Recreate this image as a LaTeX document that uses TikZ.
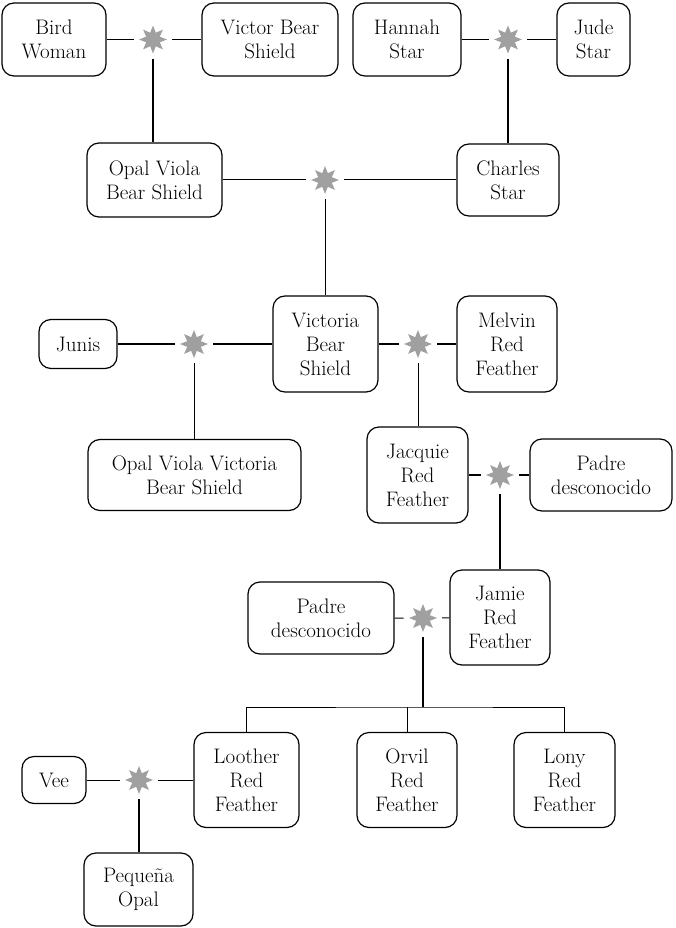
\documentclass[tikz,border=0pt]{standalone}
\usetikzlibrary{shapes.geometric}
\definecolor{stargray}{RGB}{160,160,160}
\tikzset{
  person/.style={draw, rounded corners=12pt, line width=1.2pt, align=center, inner sep=2pt, font=\fontsize{21}{24}\selectfont},
  union/.style={star, star points=8, star point ratio=1.9, fill=stargray, inner sep=0pt, minimum size=28pt, outer sep=2pt},
  link/.style={line width=1pt},
  boldlink/.style={line width=1.7pt},
}

\begin{document}
\begin{tikzpicture}[x=1pt, y=-1pt]
 \useasboundingbox (0,0) rectangle (675,928);

    % grandparents
    \node[person, minimum width=104, minimum height=73] (bird) at (54,39.5) {Bird\\Woman};
    \node[union] (u1) at (153,39.5) {};
    \node[person, minimum width=136, minimum height=73] (victor) at (270,39.5) {Victor Bear\\Shield};
    \node[person, minimum width=108, minimum height=73] (hannah) at (407,39.5) {Hannah\\Star};
    \node[union] (u2) at (508,39.5) {};
    \node[person, minimum width=73, minimum height=73] (jude) at (593.5,39.5) {Jude\\Star};

    % parents
    \node[person, minimum width=135, minimum height=74] (opalvbs) at (154.5,180) {Opal Viola\\Bear Shield};
    \node[union] (u3) at (325,180) {};
    \node[person, minimum width=102, minimum height=72] (charles) at (508,180) {Charles\\Star};

    % Victoria and her partners
    \node[person, minimum width=78, minimum height=49] (junis) at (78,344) {Junis};
    \node[union] (u4) at (194,344) {};
    \node[person, minimum width=105, minimum height=96] (victoria) at (325.5,344) {Victoria\\Bear\\Shield};
    \node[union] (u5) at (418,344) {};
    \node[person, minimum width=100, minimum height=96] (melvin) at (507,344) {Melvin\\Red\\Feather};

    % daughters
    \node[person, minimum width=213, minimum height=71] (opalvvbs) at (194.5,475) {Opal Viola Victoria\\Bear Shield};
    \node[person, minimum width=101, minimum height=96] (jacquie) at (417.5,475) {Jacquie\\Red\\Feather};
    \node[union] (u6) at (500,475) {};
    \node[person, minimum width=142, minimum height=72] (padreA) at (601,475) {Padre\\desconocido};

    \node[person, minimum width=146, minimum height=72] (padreB) at (321,618) {Padre\\desconocido};
    \node[union] (u7) at (423,618) {};
    \node[person, minimum width=100, minimum height=95] (jamie) at (500,617.5) {Jamie\\Red\\Feather};

    % youngest generation
    \coordinate (kids) at (423,707);
    \node[person, minimum width=64, minimum height=47] (vee) at (54,780) {Vee};
    \node[union] (u8) at (139,780) {};
    \node[person, minimum width=105, minimum height=95] (loother) at (246.5,780) {Loother\\Red\\Feather};
    \node[person, minimum width=100, minimum height=95] (orvil) at (407,780) {Orvil\\Red\\Feather};
    \node[person, minimum width=101, minimum height=95] (lony) at (564.5,780) {Lony\\Red\\Feather};
    \node[person, minimum width=109, minimum height=73] (pequena) at (138.5,889.5) {Pequeña\\Opal};

    % couples and descent
    \draw[link] (bird) -- (u1) -- (victor);
    \draw[boldlink] (u1) -- (u1 |- opalvbs.north);
    \draw[link] (hannah) -- (u2) -- (jude);
    \draw[boldlink] (u2) -- (u2 |- charles.north);
    \draw[link] (opalvbs) -- (u3) -- (charles);
    \draw[link] (u3) -- (u3 |- victoria.north);
    \draw[boldlink] (junis) -- (u4) -- (victoria);
    \draw[link] (u4) -- (u4 |- opalvvbs.north);
    \draw[boldlink] (victoria) -- (u5) -- (melvin);
    \draw[link] (u5) -- (u5 |- jacquie.north);
    \draw[boldlink] (jacquie) -- (u6) -- (padreA);
    \draw[boldlink] (u6) -- (u6 |- jamie.north);
    \draw[link] (padreB) -- (u7) -- (jamie);
    \draw[boldlink] (u7) -- (kids);
    \draw[link] (loother) |- (kids) -| (lony);
    \draw[link] (orvil) -- (orvil |- kids);
    \draw[link] (vee) -- (u8) -- (loother);
    \draw[boldlink] (u8) -- (u8 |- pequena.north);
\end{tikzpicture}
\end{document}
